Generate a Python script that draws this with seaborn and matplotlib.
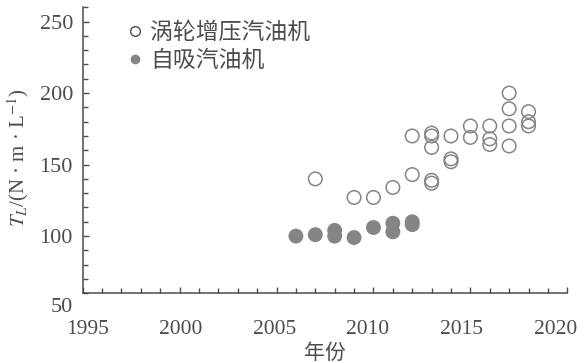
import matplotlib
matplotlib.use("Agg")
import matplotlib.pyplot as plt
from matplotlib.lines import Line2D
from matplotlib.ticker import MultipleLocator
from matplotlib.transforms import ScaledTranslation
import seaborn as sns
import pandas as pd

# Turbocharged gasoline engines: launch year and liter torque (N·m/L)
turbo_year = [2007, 2009, 2010, 2011, 2012, 2012, 2013, 2013, 2013, 2013, 2013,
              2014, 2014, 2014, 2015, 2015, 2016, 2016, 2016,
              2017, 2017, 2017, 2017, 2018, 2018, 2018]
turbo_val = [140, 127, 127, 134, 143, 170, 172, 170, 162, 139, 137,
             170, 154, 152, 177, 169, 177, 168, 164,
             200, 189, 177, 163, 187, 180, 177]

# Naturally aspirated gasoline engines
na_year = [2006, 2007, 2008, 2008, 2009, 2010, 2011, 2011, 2012, 2012]
na_val = [100, 101, 104, 100, 99, 106, 109, 103, 110, 108]

legend_labels = ["涡轮增压汽油机", "自吸汽油机"]
x_ticks = [1995, 2000, 2005, 2010, 2015, 2020]
y_ticks = [100, 150, 200, 250]

sns.set_theme(style="ticks")
plt.rcParams["font.family"] = ["Liberation Serif", "Noto Sans CJK SC", "DejaVu Sans"]
plt.rcParams["mathtext.fontset"] = "stix"

ink = "#4d4d4d"
mark = "#858585"

fig = plt.figure(figsize=(5.84, 3.63), dpi=100)
ax = fig.add_axes([0.1416, 0.192, 0.8298, 0.788])

turbo = pd.DataFrame({"year": turbo_year, "torque": turbo_val})
na = pd.DataFrame({"year": na_year, "torque": na_val})

sns.scatterplot(data=na, x="year", y="torque", ax=ax, marker="o", s=115,
                color=mark, edgecolor="none", linewidth=0, zorder=3)
sns.scatterplot(data=turbo, x="year", y="torque", ax=ax, marker="o", s=95,
                facecolors="none", edgecolor=mark, linewidth=1.1, zorder=4)
ax.collections[-1].set_facecolor("none")

ax.set_xlim(1995, 2020)
ax.set_ylim(60, 260)
ax.set_xticks(x_ticks)
ax.set_yticks(y_ticks)
ax.xaxis.set_minor_locator(MultipleLocator(1))
ax.yaxis.set_minor_locator(MultipleLocator(10))

for s in ("top", "right"):
    ax.spines[s].set_visible(False)
for s in ("left", "bottom"):
    ax.spines[s].set_color(ink)
    ax.spines[s].set_linewidth(1.1)

ax.tick_params(which="both", direction="in", colors=ink, width=1.0,
               labelsize=16, labelcolor=ink)
ax.tick_params(which="major", length=4)
ax.tick_params(which="minor", length=3.5)
ax.tick_params(axis="y", pad=7)
ax.tick_params(axis="x", pad=19, labelsize=15.5)

# year labels are set slightly tighter than the tick spacing
for i, lab in enumerate(ax.get_xticklabels()):
    dx = (3.3 - 2.4 * i) / 72.0
    lab.set_transform(lab.get_transform() + ScaledTranslation(dx, 0, fig.dpi_scale_trans))

# bottom label of the y scale sits below the x axis line
ax.annotate("50", xy=(0, 50), xycoords=("axes fraction", "data"),
            xytext=(-7, 0), textcoords="offset points", ha="right", va="center",
            fontsize=16, color=ink, annotation_clip=False)

ax.set_ylabel(r"$T_L$/(N · m · L$^{-1}$)", fontsize=15, color=ink)
ax.yaxis.set_label_coords(-0.1335, 0.475)
ax.yaxis.label.set_va("center")
ax.set_xlabel("年份", fontsize=15, color=ink, family=["Noto Sans CJK SC"])
ax.xaxis.set_label_coords(0.5, -0.207)
ax.xaxis.label.set_va("center")

handles = [
    Line2D([], [], marker="o", linestyle="none", markersize=7,
           markerfacecolor="none", markeredgecolor=ink, markeredgewidth=1.0),
    Line2D([], [], marker="o", linestyle="none", markersize=7,
           markerfacecolor=mark, markeredgecolor="none"),
]
leg = ax.legend(handles, legend_labels, loc="upper left",
                bbox_to_anchor=(0.075, 0.985), frameon=False,
                handlelength=0.6, handletextpad=0.35, labelspacing=0.22,
                borderaxespad=0.0,
                prop={"family": ["Noto Sans CJK SC"], "size": 16.5})
for t in leg.get_texts():
    t.set_color(ink)

fig.savefig("out.png", dpi=100)
